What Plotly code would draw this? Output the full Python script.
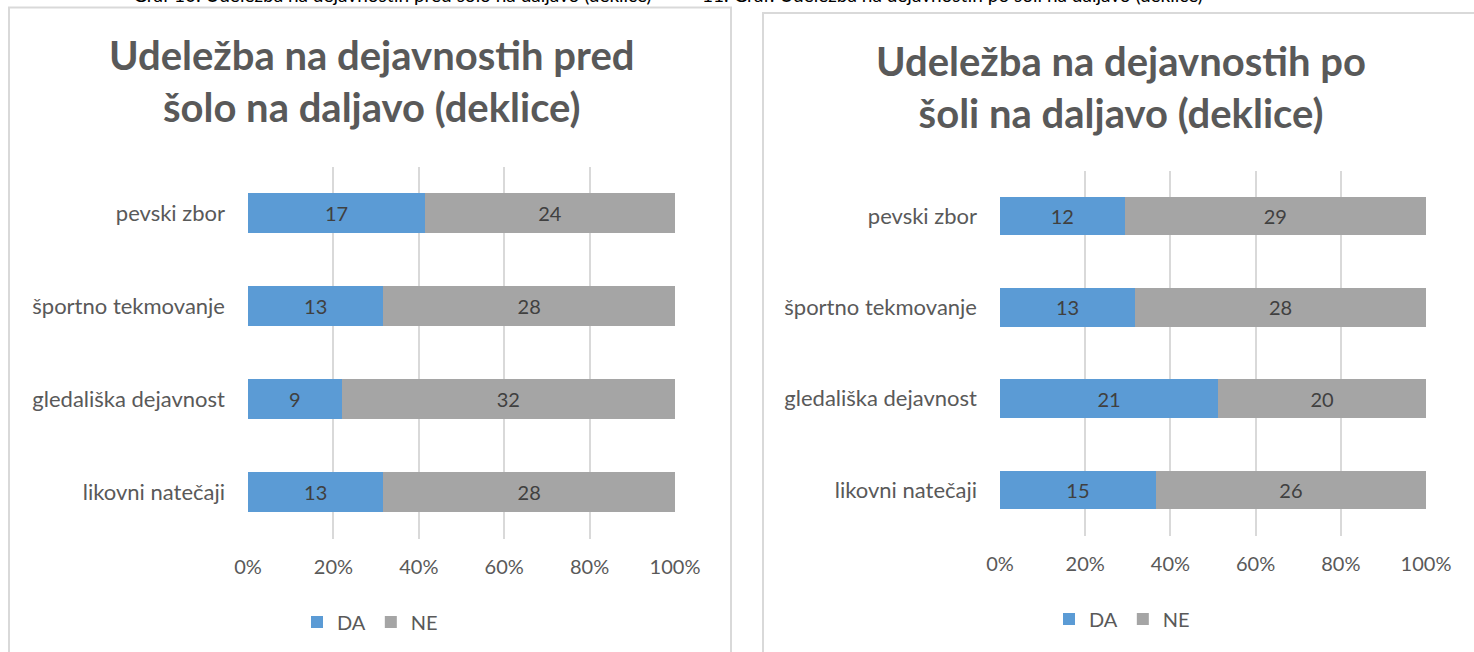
import plotly.graph_objects as go

categories = ["likovni natečaji", "gledališka dejavnost", "športno tekmovanje", "pevski zbor"]
pred_da = [13, 9, 13, 17]
pred_ne = [28, 32, 28, 24]
po_da = [15, 21, 13, 12]
po_ne = [26, 20, 28, 29]
x_ticks = [0, 20, 40, 60, 80, 100]
x_ticklabels = ["0%", "20%", "40%", "60%", "80%", "100%"]
title_left = "Udeležba na dejavnostih pred<br>šolo na daljavo (deklice)"
title_right = "Udeležba na dejavnostih po<br>šoli na daljavo (deklice)"
caption_left = "Graf 10: Udeležba na dejavnostih pred šolo na daljavo (deklice)"
caption_right = "11. Graf: Udeležba na dejavnostih po šoli na daljavo (deklice)"

W, H = 1474, 652
FONT = "Lato"
BLUE = "#5B9BD5"
GRAY = "#A5A5A5"
TXT = "#595959"
LBL = "#404040"


def px(x):
    return x / W


def py(y):
    return 1 - y / H


fig = go.Figure()

for (da, ne, xa, ya, lg) in [(pred_da, pred_ne, "x", "y", "legend"),
                             (po_da, po_ne, "x2", "y2", "legend2")]:
    fig.add_trace(go.Bar(y=categories, x=da, orientation="h", name="DA",
                         marker=dict(color=BLUE, line=dict(width=0)),
                         text=da, textposition="inside", insidetextanchor="middle",
                         textfont=dict(family=FONT, size=20, color=LBL),
                         xaxis=xa, yaxis=ya, legend=lg, hoverinfo="skip"))
    fig.add_trace(go.Bar(y=categories, x=ne, orientation="h", name="NE",
                         marker=dict(color=GRAY, line=dict(width=0)),
                         text=ne, textposition="inside", insidetextanchor="middle",
                         textfont=dict(family=FONT, size=20, color=LBL),
                         xaxis=xa, yaxis=ya, legend=lg, hoverinfo="skip"))

xaxis_common = dict(range=[0, 100], tickvals=x_ticks, ticktext=x_ticklabels,
                    showgrid=True, gridcolor="#D9D9D9", gridwidth=1.5,
                    zeroline=False, showline=False, ticks="", automargin=False,
                    tickfont=dict(family=FONT, size=20, color=TXT),
                    ticklabelstandoff=14, fixedrange=True)
yaxis_common = dict(showgrid=False, zeroline=False, showline=False, ticks="", automargin=False,
                    tickfont=dict(family=FONT, size=22, color=TXT),
                    ticklabelstandoff=22, fixedrange=True)

legend_common = dict(orientation="h", xanchor="center", yanchor="middle",
                     font=dict(family=FONT, size=20, color=TXT), bgcolor="rgba(0,0,0,0)",
                     traceorder="normal", itemwidth=30, tracegroupgap=0)

fig.update_layout(
    width=W, height=H, autosize=False,
    margin=dict(l=0, r=0, t=0, b=0, pad=0),
    paper_bgcolor="white", plot_bgcolor="white",
    barmode="stack", barnorm="percent", bargap=0.58,
    uniformtext=dict(minsize=10, mode="show"),
    xaxis=dict(domain=[px(248), px(675)], anchor="y", **xaxis_common),
    yaxis=dict(domain=[py(538.5), py(166.5)], anchor="x", **yaxis_common),
    xaxis2=dict(domain=[px(1000), px(1426)], anchor="y2", **xaxis_common),
    yaxis2=dict(domain=[py(535.5), py(170.5)], anchor="x2", **yaxis_common),
    legend=dict(x=px(370), y=py(622), **legend_common),
    legend2=dict(x=px(1122), y=py(619), **legend_common),
    showlegend=True,
)

# chart borders
fig.add_shape(type="rect", xref="paper", yref="paper",
              x0=px(9), x1=px(731), y0=py(700), y1=py(7.5),
              line=dict(color="#D9D9D9", width=2), layer="below")
fig.add_shape(type="rect", xref="paper", yref="paper",
              x0=px(763), x1=px(1520), y0=py(700), y1=py(13),
              line=dict(color="#D9D9D9", width=2), layer="below")

# chart titles
fig.add_annotation(text="<b>" + title_left + "</b>", xref="paper", yref="paper",
                   x=px(371), y=py(81), xanchor="center", yanchor="middle",
                   showarrow=False, font=dict(family=FONT, size=40, color=TXT))
fig.add_annotation(text="<b>" + title_right + "</b>", xref="paper", yref="paper",
                   x=px(1121), y=py(87), xanchor="center", yanchor="middle",
                   showarrow=False, font=dict(family=FONT, size=40, color=TXT))

# cropped captions at the very top
fig.add_annotation(text=caption_left, xref="paper", yref="paper",
                   x=px(131), y=py(-5), xanchor="left", yanchor="middle",
                   showarrow=False, font=dict(family=FONT, size=19, color="#000000"))
fig.add_annotation(text=caption_right, xref="paper", yref="paper",
                   x=px(700), y=py(-5), xanchor="left", yanchor="middle",
                   showarrow=False, font=dict(family=FONT, size=19, color="#000000"))

fig.write_html("out.html", config={"displayModeBar": False},
               post_script="document.body.style.margin='0';document.body.style.overflow='hidden';")
